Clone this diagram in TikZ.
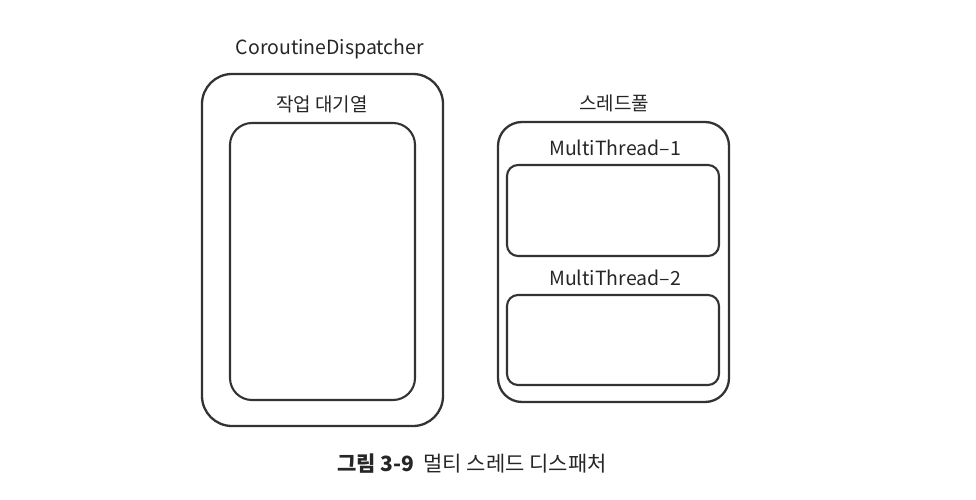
\documentclass[tikz,border=0pt]{standalone}
\usepackage{fontspec}
\setmainfont{Noto Sans CJK KR}
\usetikzlibrary{positioning}

\tikzset{
  outerbox/.style={draw=black!80, line width=2.3pt, rounded corners=30pt, inner sep=0pt},
  innerbox/.style={draw=black!80, line width=2.1pt, rounded corners=22pt, inner sep=0pt},
  threadbox/.style={draw=black!80, line width=2.1pt, rounded corners=11pt, inner sep=0pt},
  lbl/.style={font=\fontsize{19.5}{22}\selectfont, text=black!85, inner sep=0pt}
}

\begin{document}
\begin{tikzpicture}[x=1pt, y=-1pt]
        \useasboundingbox (0,0) rectangle (976,500);

        % Dispatcher
        \node[outerbox, minimum width=241pt, minimum height=352pt] (disp) at (322.5,250) {};
        \node[innerbox, minimum width=185pt, minimum height=277pt] (queue) at (322.5,261.5) {};
        \node[lbl] (disptxt) at (330,49) {CoroutineDispatcher};
        \node[lbl, font=\fontsize{19}{22}\selectfont] (queuetxt) at (322,104) {작업 대기열};

        % Thread pool
        \node[outerbox, rounded corners=24pt, minimum width=231pt, minimum height=280pt] (pool) at (613.5,262) {};
        \node[threadbox, minimum width=212pt, minimum height=91pt] (mt1) at (613,210.5) {};
        \node[threadbox, minimum width=212pt, minimum height=90pt] (mt2) at (613,340) {};
        \node[lbl, font=\fontsize{19}{22}\selectfont] (pooltxt) at (614,103) {스레드풀};
        \node[lbl] (mt1txt) at (615,148) {MultiThread–1};
        \node[lbl] (mt2txt) at (615,278) {MultiThread–2};

        % Caption
        \node[lbl, font=\fontsize{21}{24}\selectfont] (cap) at (472,464) {\textbf{그림 3-9}\ \ 멀티 스레드 디스패처};
\end{tikzpicture}
\end{document}
